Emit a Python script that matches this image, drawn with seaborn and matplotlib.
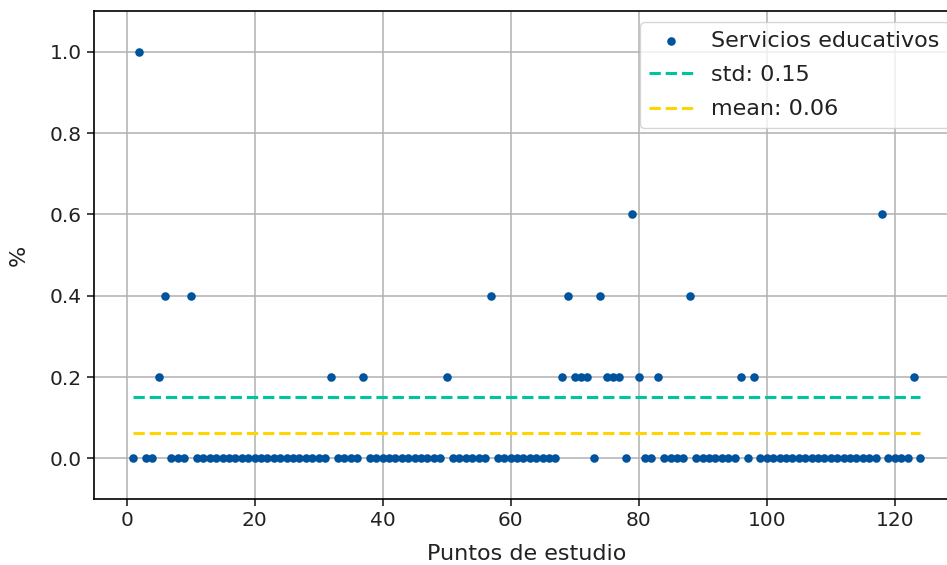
import numpy as np
import pandas as pd
import matplotlib
matplotlib.use("Agg")
import matplotlib.pyplot as plt
import seaborn as sns

# ── Data ───────────────────────────────────────────────
puntos = list(range(1, 125))
servicios = [
    0.0, 1.0, 0.0, 0.0, 0.2, 0.4, 0.0, 0.0, 0.0, 0.4,   # 1-10
    0.0, 0.0, 0.0, 0.0, 0.0, 0.0, 0.0, 0.0, 0.0, 0.0,   # 11-20
    0.0, 0.0, 0.0, 0.0, 0.0, 0.0, 0.0, 0.0, 0.0, 0.0,   # 21-30
    0.0, 0.2, 0.0, 0.0, 0.0, 0.0, 0.2, 0.0, 0.0, 0.0,   # 31-40
    0.0, 0.0, 0.0, 0.0, 0.0, 0.0, 0.0, 0.0, 0.0, 0.2,   # 41-50
    0.0, 0.0, 0.0, 0.0, 0.0, 0.0, 0.4, 0.0, 0.0, 0.0,   # 51-60
    0.0, 0.0, 0.0, 0.0, 0.0, 0.0, 0.0, 0.2, 0.4, 0.2,   # 61-70
    0.2, 0.2, 0.0, 0.4, 0.2, 0.2, 0.2, 0.0, 0.6, 0.2,   # 71-80
    0.0, 0.0, 0.2, 0.0, 0.0, 0.0, 0.0, 0.4, 0.0, 0.0,   # 81-90
    0.0, 0.0, 0.0, 0.0, 0.0, 0.2, 0.0, 0.2, 0.0, 0.0,   # 91-100
    0.0, 0.0, 0.0, 0.0, 0.0, 0.0, 0.0, 0.0, 0.0, 0.0,   # 101-110
    0.0, 0.0, 0.0, 0.0, 0.0, 0.0, 0.0, 0.6, 0.0, 0.0,   # 111-120
    0.0, 0.0, 0.2, 0.0,                                 # 121-124
]
serie = "Servicios educativos"

df = pd.DataFrame({"punto": puntos, "valor": servicios})
std_val = np.std(servicios)
mean_val = np.mean(servicios)
x_ends = [puntos[0], puntos[-1]]

# ── Style ──────────────────────────────────────────────
sns.set_theme(style="ticks")
plt.rcParams.update({
    "font.family": ["DejaVu Sans"],
    "axes.edgecolor": "black",
    "axes.linewidth": 1.2,
    "xtick.major.size": 5,
    "ytick.major.size": 5,
    "xtick.major.width": 1.2,
    "ytick.major.width": 1.2,
    "xtick.color": "#222222",
    "ytick.color": "#222222",
    "grid.color": "#b0b0b0",
    "grid.linewidth": 1.1,
})
BLUE = "#00539c"
TEAL = "#00c4a0"
GOLD = "#ffd400"

fig = plt.figure(figsize=(9.47, 5.65), dpi=100)
ax = fig.add_axes([0.0989, 0.1168, 0.9145, 0.8637])

sns.scatterplot(data=df, x="punto", y="valor", color=BLUE, s=38,
                linewidth=0, label=serie, ax=ax, zorder=3)
sns.lineplot(x=x_ends, y=[std_val, std_val], color=TEAL, linestyle="--",
             linewidth=2.2, label=f"std: {std_val:.2f}", ax=ax)
sns.lineplot(x=x_ends, y=[mean_val, mean_val], color=GOLD, linestyle="--",
             linewidth=2.2, label=f"mean: {mean_val:.2f}", ax=ax)

ax.set_xlim(-5.15, 130.15)
ax.set_ylim(-0.1, 1.1)
ax.set_yticks(np.arange(0, 1.01, 0.2))
ax.set_xticks(range(0, 121, 20))
ax.grid(True)
ax.set_axisbelow(True)

ax.tick_params(labelsize=14.5)
ax.set_xlabel("Puntos de estudio", fontsize=16, color="#222222", labelpad=10)
ax.set_ylabel("%", fontsize=16, color="#222222", labelpad=15)

leg = ax.legend(loc="upper right", fontsize=16, frameon=True,
                framealpha=0.8, fancybox=True, edgecolor="#cccccc",
                labelspacing=0.64)
for t in leg.get_texts():
    t.set_color("#222222")

fig.savefig("out.png", dpi=100)
plt.close(fig)
